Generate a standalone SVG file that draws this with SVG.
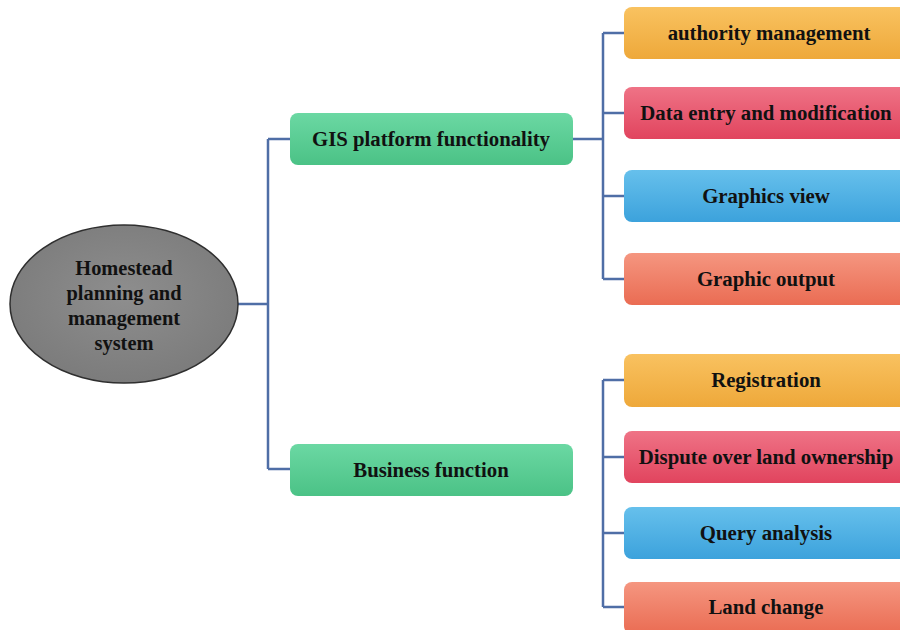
<svg xmlns="http://www.w3.org/2000/svg" width="900" height="630" viewBox="0 0 900 630">
<defs>
<linearGradient id="gGreen" x1="0" y1="0" x2="0" y2="1"><stop offset="0" stop-color="#6BD8A3"/><stop offset="1" stop-color="#4BC286"/></linearGradient>
<linearGradient id="gOrange" x1="0" y1="0" x2="0" y2="1"><stop offset="0" stop-color="#F9C260"/><stop offset="1" stop-color="#EEA83A"/></linearGradient>
<linearGradient id="gRed" x1="0" y1="0" x2="0" y2="1"><stop offset="0" stop-color="#EF7386"/><stop offset="1" stop-color="#E1445E"/></linearGradient>
<linearGradient id="gBlue" x1="0" y1="0" x2="0" y2="1"><stop offset="0" stop-color="#66C0EC"/><stop offset="1" stop-color="#3CA2DC"/></linearGradient>
<linearGradient id="gSalmon" x1="0" y1="0" x2="0" y2="1"><stop offset="0" stop-color="#F59680"/><stop offset="1" stop-color="#EA6C53"/></linearGradient>
<radialGradient id="gGrey" cx="0.5" cy="0.45" r="0.6"><stop offset="0" stop-color="#8E8E8E"/><stop offset="1" stop-color="#7A7A7A"/></radialGradient>
</defs>
<style>
.conn{fill:none;stroke:#4F6EA6;stroke-width:2.5}
.t{font-family:"Liberation Serif","Times New Roman",serif;font-weight:bold;font-size:20.8px;fill:#111;text-anchor:middle}
.e{font-size:20.4px}
</style>
<rect width="900" height="630" fill="#FFFFFF"/>
<g id="connectors">
<path class="conn" d="M238,304 H268 M268,139 V469 M268,139 H291 M268,469 H291"/>
<path class="conn" d="M573,139 H603 M603,33 V279 M603,33 H625 M603,113 H625 M603,196 H625 M603,279 H625"/>
<path class="conn" d="M603,380 V607 M603,380 H625 M603,457 H625 M603,533 H625 M603,607 H625"/>
</g>
<g id="root">
<ellipse cx="124" cy="304" rx="114" ry="79" fill="url(#gGrey)" stroke="#2F2F2F" stroke-width="1.5"/>
<text class="t e" x="124" y="275">Homestead</text>
<text class="t e" x="124" y="300">planning and</text>
<text class="t e" x="124" y="325">management</text>
<text class="t e" x="124" y="350">system</text>
</g>
<g id="gis">
<rect x="290" y="113" width="283" height="52" rx="8" fill="url(#gGreen)"/>
<text class="t" x="431" y="146">GIS platform functionality</text>
</g>
<g id="business">
<rect x="290" y="444" width="283" height="52" rx="8" fill="url(#gGreen)"/>
<text class="t" x="431" y="477">Business function</text>
</g>
<g id="authority">
<rect x="624" y="7" width="290" height="52" rx="8" fill="url(#gOrange)"/>
<text class="t" x="769" y="40">authority management</text>
</g>
<g id="dataentry">
<rect x="624" y="87" width="290" height="52" rx="8" fill="url(#gRed)"/>
<text class="t" x="766" y="120">Data entry and modification</text>
</g>
<g id="graphicsview">
<rect x="624" y="170" width="290" height="52" rx="8" fill="url(#gBlue)"/>
<text class="t" x="766" y="203">Graphics view</text>
</g>
<g id="graphicoutput">
<rect x="624" y="253" width="290" height="52" rx="8" fill="url(#gSalmon)"/>
<text class="t" x="766" y="286">Graphic output</text>
</g>
<g id="registration">
<rect x="624" y="354" width="290" height="53" rx="8" fill="url(#gOrange)"/>
<text class="t" x="766" y="387">Registration</text>
</g>
<g id="dispute">
<rect x="624" y="431" width="290" height="52" rx="8" fill="url(#gRed)"/>
<text class="t" x="766" y="464">Dispute over land ownership</text>
</g>
<g id="query">
<rect x="624" y="507" width="290" height="52" rx="8" fill="url(#gBlue)"/>
<text class="t" x="766" y="540">Query analysis</text>
</g>
<g id="landchange">
<rect x="624" y="582" width="290" height="52" rx="8" fill="url(#gSalmon)"/>
<text class="t" x="766" y="614">Land change</text>
</g>
</svg>
